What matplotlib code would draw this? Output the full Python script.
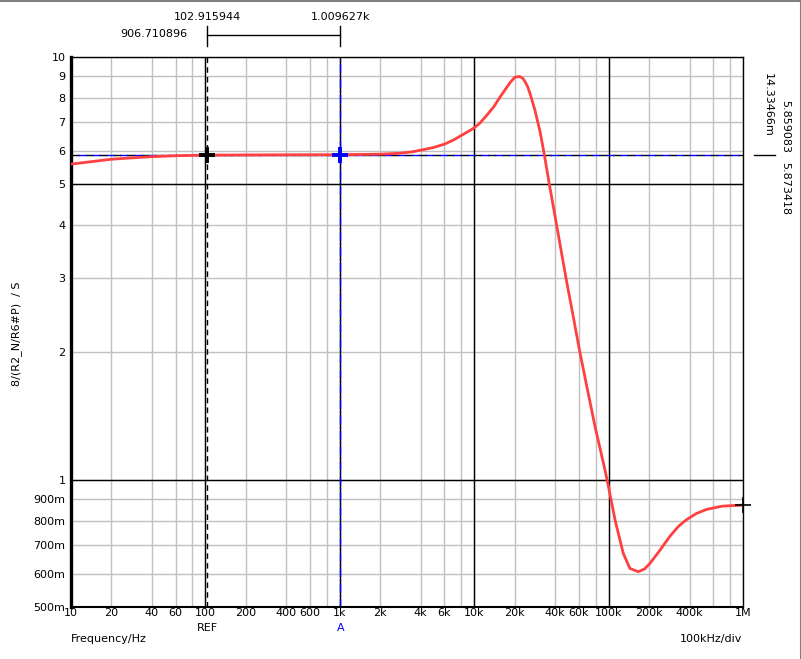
import numpy as np
import matplotlib
matplotlib.use("Agg")
import matplotlib.pyplot as plt
from matplotlib.lines import Line2D
from matplotlib.transforms import blended_transform_factory

# curve (Hz, S)
freq = [10, 20, 30, 40, 60, 100, 200, 300, 500, 1000, 2000, 2800, 3500, 4000,
        5000, 6000, 7000, 8000, 9000, 10000, 11000, 12500, 14000, 15600, 16900,
        18500, 20000, 21300, 22000, 23000, 23900, 25000, 26000, 28300, 30900,
        33300, 36300, 41000, 48200, 55000, 61200, 70000, 79300, 90000,
        94000, 100000, 112000, 128500, 144000, 166000, 185000, 203000,
        240000, 286000, 330000, 381000, 450000, 537000, 700000, 850000, 1000000]
value = [5.58, 5.73, 5.78, 5.81, 5.84, 5.859, 5.866, 5.868, 5.871, 5.873, 5.89,
         5.92, 5.97, 6.02, 6.11, 6.22, 6.36, 6.52, 6.66, 6.80, 6.97, 7.30, 7.63,
         8.05, 8.35, 8.70, 8.95, 8.99, 8.98, 8.90, 8.74, 8.50, 8.20, 7.49, 6.66,
         5.86, 4.98, 4.01, 3.00, 2.40, 2.00, 1.62, 1.335, 1.12,
         1.054, 0.96, 0.80, 0.67, 0.617, 0.606, 0.615, 0.634,
         0.68, 0.735, 0.775, 0.805, 0.832, 0.851, 0.866, 0.869, 0.871]

# cursors
ref_f, ref_v = 102.915944, 5.859083
a_f, a_v = 1009.627, 5.873418

x_grid = [20, 40, 60, 80, 200, 400, 600, 800, 2000, 4000, 6000, 8000,
          20000, 40000, 60000, 80000, 200000, 400000, 600000, 800000]
x_labels = ["20", "40", "60", "", "200", "400", "600", "", "2k", "4k", "6k", "",
            "20k", "40k", "60k", "", "200k", "400k", "", ""]
x_decades = [10, 100, 1000, 10000, 100000, 1000000]
x_decade_labels = ["10", "100", "1k", "10k", "100k", "1M"]

y_ticks = [0.5, 0.6, 0.7, 0.8, 0.9, 1, 2, 3, 4, 5, 6, 7, 8, 9, 10]
y_labels = ["500m", "600m", "700m", "800m", "900m", "1", "2", "3", "4", "5",
            "6", "7", "8", "9", "10"]

W, H = 801, 659
fig = plt.figure(figsize=(W / 100, H / 100), dpi=100)
ax = fig.add_axes([71 / W, 1 - 607 / H, 672 / W, 550 / H])

ax.set_xscale("log")
ax.set_yscale("log")
ax.set_xlim(10, 1e6)
ax.set_ylim(0.5, 10)

ax.set_xticks(x_decades + x_grid)
ax.set_xticklabels(x_decade_labels + x_labels)
ax.set_yticks(y_ticks)
ax.set_yticklabels(y_labels)
ax.minorticks_off()
ax.tick_params(length=0, labelsize=8)
ax.tick_params(axis="x", pad=1)
ax.tick_params(axis="y", pad=4)
ax.set_axisbelow(True)
ax.grid(True, color="#c0c0c0", linewidth=1)

for f in x_decades[1:-1]:
    ax.axvline(f, color="black", linewidth=1, zorder=2)
for v in [1, 5]:
    ax.axhline(v, color="black", linewidth=1, zorder=2)

ax.spines["left"].set_linewidth(2.4)
ax.spines["bottom"].set_linewidth(1.5)
ax.spines["top"].set_linewidth(1.0)
ax.spines["right"].set_linewidth(1.0)

# cursor lines
ax.axvline(ref_f, color="black", linestyle=(0, (4, 3)), linewidth=1, zorder=2.5)
ax.axvline(a_f, color="blue", linestyle=(0, (6, 2, 1, 2)), linewidth=1, zorder=2.5)
ax.axhline(ref_v, color="black", linestyle=(0, (6, 4)), linewidth=1, zorder=2.5)
ax.axhline(a_v, color="blue", linestyle=(5, (6, 4)), linewidth=1, zorder=2.5)

ax.plot(freq, value, color="#ff4040", linewidth=2, zorder=3)

ax.plot([ref_f], [ref_v], marker="+", color="black", markersize=12, mew=2.8, zorder=4)
ax.plot([a_f], [a_v], marker="+", color="blue", markersize=12, mew=2.8, zorder=4)
ax.plot([freq[-1]], [value[-1]], marker="+", color="black", markersize=12, mew=1.2,
        zorder=4, clip_on=False)

def fx(x):
    return x / W

def fy(y):
    return 1 - y / H

# top cursor read-outs and bracket
tr = blended_transform_factory(ax.transData, fig.transFigure)
fig.text(ref_f, fy(17), "102.915944", transform=tr, ha="center", va="center", fontsize=8)
fig.text(a_f, fy(17), "1.009627k", transform=tr, ha="center", va="center", fontsize=8)
fig.text(fx(187), fy(34), "906.710896", ha="right", va="center", fontsize=8)
fig.add_artist(Line2D([ref_f, a_f], [fy(35), fy(35)], transform=tr, color="black", linewidth=1))
for f in [ref_f, a_f]:
    fig.add_artist(Line2D([f, f], [fy(26), fy(46)], transform=tr, color="black", linewidth=1))

# bottom labels
fig.text(ref_f, fy(628), "REF", transform=tr, ha="center", va="center", fontsize=8)
fig.text(a_f, fy(628), "A", transform=tr, ha="center", va="center", fontsize=8, color="blue")
fig.text(fx(71), fy(639), "Frequency/Hz", ha="left", va="center", fontsize=8)
fig.text(fx(742), fy(639), "100kHz/div", ha="right", va="center", fontsize=8)

# y label
fig.text(fx(17), fy(334), "8/(R2_N/R6#P)  / S", rotation=90, ha="center", va="center", fontsize=8)

# right side read-outs
fig.text(fx(785), fy(126), "5.859083", rotation=270, ha="center", va="center", fontsize=8)
fig.text(fx(768), fy(105), "14.33466m", rotation=270, ha="center", va="center", fontsize=8)
fig.text(fx(785), fy(189), "5.873418", rotation=270, ha="center", va="center", fontsize=8)
fig.add_artist(Line2D([fx(754), fx(775)], [fy(155), fy(155)], color="black", linewidth=1))

# window frame
fig.add_artist(Line2D([0, 1], [fy(0.5), fy(0.5)], color="#808080", linewidth=1.5))
fig.add_artist(Line2D([fx(800.5), fx(800.5)], [0, 1], color="#808080", linewidth=1.5))

fig.savefig("out.png", dpi=100)
